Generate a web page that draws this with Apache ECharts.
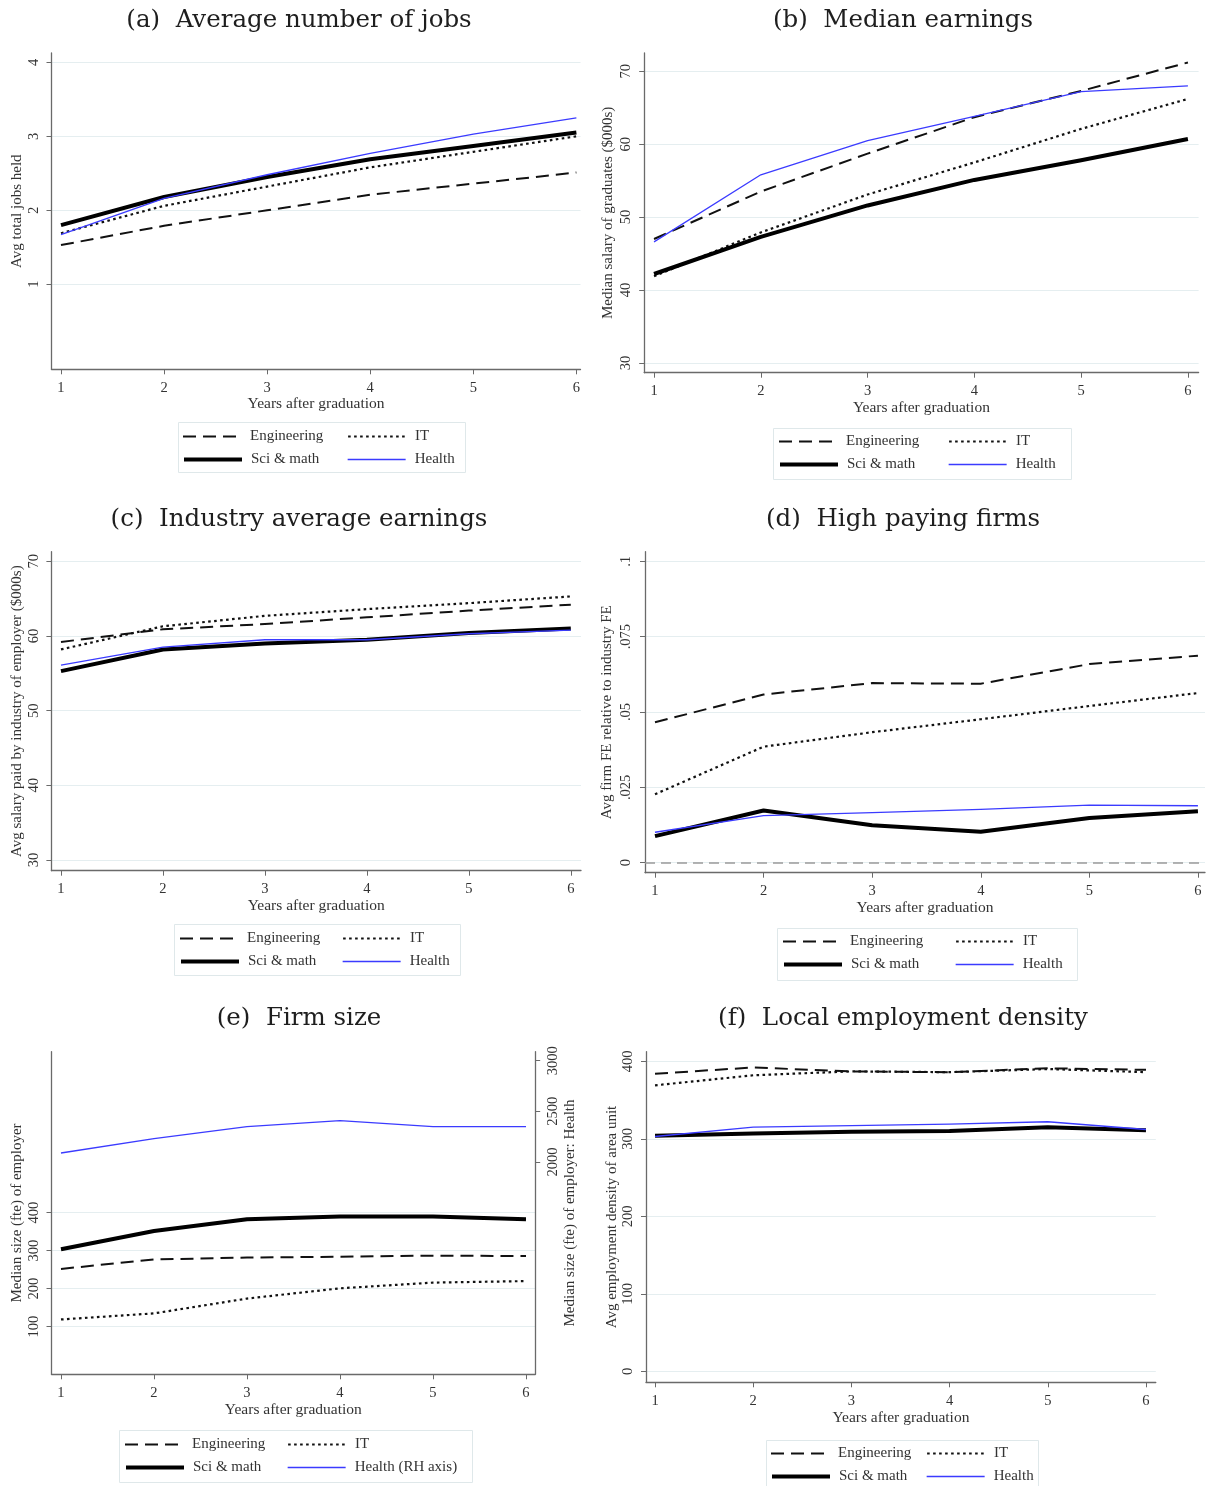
<!DOCTYPE html>
<html>
<head>
<meta charset="utf-8">
<script src="https://cdn.jsdelivr.net/npm/echarts@6/dist/echarts.min.js"></script>
<style>
html,body{margin:0;padding:0;background:#fff;}
#chart{width:1207px;height:1486px;}
</style>
</head>
<body>
<div id="chart"></div>
<script>
// ---------------- DATA ----------------
const years = [1, 2, 3, 4, 5, 6];
const xTicks = [1, 2, 3, 4, 5, 6];

// (a) Average number of jobs
const jobsEngineering = [1.53, 1.79, 2.00, 2.21, 2.36, 2.51];
const jobsIT          = [1.69, 2.06, 2.32, 2.58, 2.79, 3.00];
const jobsSciMath     = [1.80, 2.18, 2.45, 2.69, 2.87, 3.05];
const jobsHealth      = [1.67, 2.16, 2.48, 2.77, 3.03, 3.25];
const jobsTicks = [1, 2, 3, 4];

// (b) Median earnings
const earnEngineering = [47.0, 53.5, 58.7, 63.7, 67.3, 71.2];
const earnIT          = [41.9, 47.9, 53.1, 57.5, 62.1, 66.2];
const earnSciMath     = [42.2, 47.3, 51.6, 55.1, 57.8, 60.7];
const earnHealth      = [46.6, 55.8, 60.5, 63.8, 67.2, 68.0];
const earnTicks = [30, 40, 50, 60, 70];

// (c) Industry average earnings
const indEngineering = [59.2, 60.9, 61.6, 62.5, 63.4, 64.2];
const indIT          = [58.2, 61.3, 62.7, 63.6, 64.4, 65.3];
const indSciMath     = [55.3, 58.2, 59.0, 59.5, 60.4, 61.0];
const indHealth      = [56.1, 58.5, 59.5, 59.5, 60.3, 60.8];
const indTicks = [30, 40, 50, 60, 70];

// (d) High paying firms
const feEngineering = [0.0466, 0.0558, 0.0596, 0.0594, 0.0659, 0.0687];
const feIT          = [0.0227, 0.0385, 0.0433, 0.0476, 0.0520, 0.0563];
const feSciMath     = [0.0088, 0.0173, 0.0124, 0.0103, 0.0148, 0.0171];
const feHealth      = [0.0101, 0.0156, 0.0166, 0.0177, 0.0191, 0.0189];
const feTicks = [0, 0.025, 0.05, 0.075, 0.1];

// (e) Firm size (Health on right axis)
const sizeEngineering = [252, 277, 282, 284, 287, 286];
const sizeIT          = [119, 135, 174, 201, 216, 220];
const sizeSciMath     = [304, 352, 383, 390, 390, 383];
const sizeHealth      = [2089, 2230, 2349, 2408, 2349, 2349];
const sizeTicks = [100, 200, 300, 400];
const sizeHealthTicks = [2000, 2500, 3000];

// (f) Local employment density
const densEngineering = [384, 392, 387, 386, 391, 389];
const densIT          = [369, 382, 387, 386, 390, 386];
const densSciMath     = [304, 307, 309, 310, 315, 311];
const densHealth      = [303, 315, 317, 319, 322, 312];
const densTicks = [0, 100, 200, 300, 400];

// ---------------- STYLE / LAYOUT ----------------
const SERIF = '"Liberation Serif", "Times New Roman", serif';
const TITLE_FONT = '"DejaVu Serif", serif';
const AXIS_COLOR = '#6a6a6a';
const TEXT_COLOR = '#333';
const GRID_COLOR = '#e5eef0';

const seriesStyle = {
  'Engineering': {color: '#111', width: 2, type: [13, 7]},
  'IT': {color: '#111', width: 2.2, type: [2.6, 3.4]},
  'Sci & math': {color: '#000', width: 4, type: 'solid'},
  'Health': {color: '#3b3bff', width: 1.3, type: 'solid'},
  'Health (RH axis)': {color: '#3b3bff', width: 1.3, type: 'solid'}
};

const panels = [
  {title: '(a)  Average number of jobs', tx: 299, ty: 21,
   grid: {left: 51.5, top: 53, width: 529, height: 316.3},
   xmin: 0.908, xmax: 6.04, ymin: -0.15, ymax: 4.126, yTicks: jobsTicks, yName: 'Avg total jobs held', yGap: 27, yMargin: 10,
   xGap: 26, fmt: v => String(v),
   series: [['Engineering', jobsEngineering], ['IT', jobsIT], ['Sci & math', jobsSciMath], ['Health', jobsHealth]],
   legend: {box: [176, 420, 287, 50], c1: 182, c2: 347, r1: 436, r2: 459}},
  {title: '(b)  Median earnings', tx: 903, ty: 21,
   grid: {left: 644.2, top: 53, width: 554.4, height: 319.7},
   xmin: 0.908, xmax: 6.1, ymin: 28.67, ymax: 72.5, yTicks: earnTicks, yName: 'Median salary of graduates ($000s)', yGap: 29, yMargin: 11,
   xGap: 27, fmt: v => String(v),
   series: [['Engineering', earnEngineering], ['IT', earnIT], ['Sci & math', earnSciMath], ['Health', earnHealth]],
   legend: {box: [771, 426, 298, 51], c1: 778, c2: 948, r1: 441, r2: 464}},
  {title: '(c)  Industry average earnings', tx: 299, ty: 520,
   grid: {left: 51.4, top: 551.7, width: 529.6, height: 319},
   xmin: 0.906, xmax: 6.1, ymin: 28.57, ymax: 71.29, yTicks: indTicks, yName: 'Avg salary paid by industry of employer ($000s)', yGap: 27, yMargin: 10,
   xGap: 26, fmt: v => String(v),
   series: [['Engineering', indEngineering], ['IT', indIT], ['Sci & math', indSciMath], ['Health', indHealth]],
   legend: {box: [172, 922, 286, 51], c1: 179, c2: 342, r1: 938, r2: 961}},
  {title: '(d)  High paying firms', tx: 903, ty: 520,
   grid: {left: 645, top: 551.7, width: 560, height: 321},
   xmin: 0.908, xmax: 6.065, ymin: -0.00332, ymax: 0.1032, yTicks: feTicks, yName: 'Avg firm FE relative to industry FE', yGap: 30, yMargin: 11,
   xGap: 27, fmt: v => v === 0 ? '0' : String(v).replace(/^0/, ''), zeroLine: true,
   series: [['Engineering', feEngineering], ['IT', feIT], ['Sci & math', feSciMath], ['Health', feHealth]],
   legend: {box: [775, 926, 300, 52], c1: 782, c2: 955, r1: 941, r2: 964}},
  {title: '(e)  Firm size', tx: 299, ty: 1019,
   grid: {left: 51.5, top: 1051.7, width: 483.7, height: 322.6},
   xmin: 0.898, xmax: 6.099, ymin: -25.3, ymax: 823.7, yTicks: sizeTicks, yName: 'Median size (fte) of employer', yGap: 27, yMargin: 10,
   xGap: 28, fmt: v => String(v),
   right: {ymin: -94.7, ymax: 3088.8, yTicks: sizeHealthTicks, yName: 'Median size (fte) of employer: Health', yGap: 27, yMargin: 10},
   series: [['Engineering', sizeEngineering], ['IT', sizeIT], ['Sci & math', sizeSciMath], ['Health (RH axis)', sizeHealth, 'right']],
   legend: {box: [117, 1428, 353, 52], c1: 124, c2: 287, r1: 1444, r2: 1467}},
  {title: '(f)  Local employment density', tx: 903, ty: 1019,
   grid: {left: 646, top: 1051.7, width: 509.8, height: 330.6},
   xmin: 0.908, xmax: 6.1, ymin: -14.2, ymax: 412.4, yTicks: densTicks, yName: 'Avg employment density of area unit', yGap: 26, yMargin: 10,
   xGap: 28, fmt: v => String(v),
   series: [['Engineering', densEngineering], ['IT', densIT], ['Sci & math', densSciMath], ['Health', densHealth]],
   legend: {box: [764, 1438, 272, 47], c1: 770, c2: 926, r1: 1453, r2: 1476}}
];

// ---------------- BUILD OPTION ----------------
const grids = [], xAxes = [], yAxes = [], series = [], legends = [], graphics = [];

panels.forEach((p, gi) => {
  grids.push(Object.assign({containLabel: false}, p.grid));
  xAxes.push({
    type: 'value', gridIndex: gi, min: p.xmin, max: p.xmax,
    name: 'Years after graduation', nameLocation: 'middle', nameGap: p.xGap,
    nameTextStyle: {fontFamily: SERIF, fontSize: 15.5, color: TEXT_COLOR},
    axisLine: {show: true, onZero: false, lineStyle: {color: AXIS_COLOR, width: 1.3}},
    axisTick: {show: true, customValues: xTicks, length: 5, lineStyle: {color: AXIS_COLOR}},
    axisLabel: {customValues: xTicks, margin: 11, fontFamily: SERIF, fontSize: 14.5, color: TEXT_COLOR, showMinLabel: true, showMaxLabel: true},
    splitLine: {show: false}
  });
  const leftIdx = yAxes.length;
  yAxes.push({
    type: 'value', gridIndex: gi, min: p.ymin, max: p.ymax, position: 'left',
    name: p.yName, nameLocation: 'middle', nameGap: p.yGap, nameRotate: 90,
    nameTextStyle: {fontFamily: SERIF, fontSize: 15, color: TEXT_COLOR},
    axisLine: {show: true, onZero: false, lineStyle: {color: AXIS_COLOR, width: 1.3}},
    axisTick: {show: true, customValues: p.yTicks, length: 5, lineStyle: {color: AXIS_COLOR}},
    axisLabel: {customValues: p.yTicks, rotate: 90, margin: p.yMargin, formatter: p.fmt, fontFamily: SERIF, fontSize: 14.5, color: TEXT_COLOR},
    splitLine: {show: true, lineStyle: {color: GRID_COLOR, width: 1.2}}
  });
  let rightIdx = null;
  if (p.right) {
    rightIdx = yAxes.length;
    yAxes.push({
      type: 'value', gridIndex: gi, min: p.right.ymin, max: p.right.ymax, position: 'right',
      name: p.right.yName, nameLocation: 'middle', nameGap: p.right.yGap, nameRotate: 90,
      nameTextStyle: {fontFamily: SERIF, fontSize: 15, color: TEXT_COLOR},
      axisLine: {show: true, onZero: false, lineStyle: {color: AXIS_COLOR, width: 1.3}},
      axisTick: {show: true, customValues: p.right.yTicks, length: 5, lineStyle: {color: AXIS_COLOR}},
      axisLabel: {customValues: p.right.yTicks, rotate: 90, margin: p.right.yMargin, formatter: v => String(v), fontFamily: SERIF, fontSize: 14.5, color: TEXT_COLOR},
      splitLine: {show: false}
    });
  }
  p.series.forEach((s, si) => {
    const st = seriesStyle[s[0]];
    const ser = {
      type: 'line', name: s[0], xAxisIndex: gi, yAxisIndex: s[2] === 'right' ? rightIdx : leftIdx,
      data: years.map((y, i) => [y, s[1][i]]),
      symbol: 'none', silent: true, animation: false,
      lineStyle: {color: st.color, width: st.width, type: st.type, cap: 'butt', join: 'round'},
      itemStyle: {color: st.color},
      z: 3 + si
    };
    if (p.zeroLine && si === 0) {
      ser.markLine = {
        silent: true, symbol: ['none', 'none'], label: {show: false},
        lineStyle: {color: '#9a9a9a', width: 1.6, type: [10, 6]},
        data: [{yAxis: 0}]
      };
    }
    series.push(ser);
  });
  // legend
  const L = p.legend;
  const names = p.series.map(s => s[0]);
  const pos = [[L.c1, L.r1], [L.c2, L.r1], [L.c1, L.r2], [L.c2, L.r2]];
  names.forEach((n, k) => {
    const st = seriesStyle[n];
    legends.push({
      data: [n], left: pos[k][0], top: pos[k][1] - 7, padding: 0,
      itemWidth: 58, itemHeight: 14, selectedMode: false,
      itemStyle: {opacity: 0, borderWidth: 0},
      lineStyle: {color: st.color, width: st.width, type: st.type, cap: 'butt', opacity: 1},
      textStyle: {fontFamily: SERIF, fontSize: 15, color: TEXT_COLOR, padding: [0, 0, 0, 4]}
    });
  });
  graphics.push({
    type: 'rect', left: L.box[0], top: L.box[1], silent: true,
    shape: {width: L.box[2], height: L.box[3]},
    style: {fill: 'none', stroke: '#dfe8ea', lineWidth: 1}
  });
  graphics.push({
    type: 'text', x: p.tx, y: p.ty, silent: true,
    style: {text: p.title, font: '24.5px ' + TITLE_FONT, fill: '#1e1e1e', align: 'center', verticalAlign: 'middle'}
  });
});

const chart = echarts.init(document.getElementById('chart'), null, {renderer: 'canvas'});
chart.setOption({
  backgroundColor: '#fff',
  animation: false,
  grid: grids,
  xAxis: xAxes,
  yAxis: yAxes,
  legend: legends,
  series: series,
  graphic: graphics
});
</script>
</body>
</html>
